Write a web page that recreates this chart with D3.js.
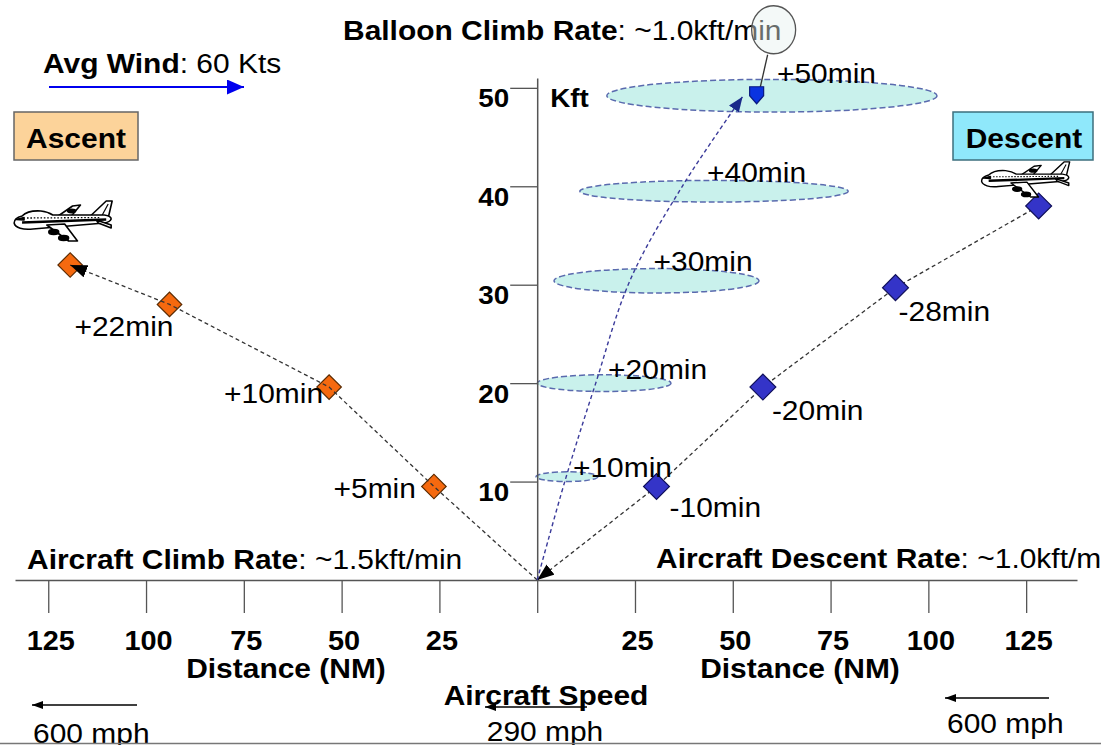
<!DOCTYPE html>
<html lang="en">
<head>
<meta charset="utf-8">
<title>Balloon launch - aircraft profile</title>
<script src="https://cdn.jsdelivr.net/npm/d3@7"></script>
<style>
  body {margin: 0; background: white;}
  svg text {font-family: "Liberation Sans", Arial, sans-serif; fill: black;}
  .trace {fill: none; stroke: #333; stroke-width: 1.3; stroke-dasharray: 4 3;}
  .traceBallon {fill: none; stroke: #3a3a9a; stroke-width: 1.4; stroke-dasharray: 4 3;}
  .derive {fill: #c9f1ec; stroke: #5a6aae; stroke-width: 1.5; stroke-dasharray: 6 3;}
  .avion path, .avion ellipse {fill: white; stroke: black; stroke-width: 1.6; stroke-linejoin: round;}
  .avion .noir {fill: black;}
</style>
</head>
<body>
<svg width="1101" height="745"></svg>
<script>
// ---- data ----
var distTicks = [-125, -100, -75, -50, -25, 0, 25, 50, 75, 100, 125];   // NM (left = ascent side)
var altTicks = [10, 20, 30, 40, 50];                                    // kft

var ascentDist = [0, 26.4, 53.2, 94.0, 119.4];     // NM, towards the left
var ascentAlt = [0, 9.5, 19.6, 28.0, 32.0];
var ascentLabels = ["", "+5min", "+10min", "+22min", ""];

var descentDist = [128.2, 91.6, 57.7, 30.5, 0];    // NM, towards the right
var descentAlt = [38.0, 29.7, 19.6, 9.5, 0];
var descentLabels = ["", "-28min", "-20min", "-10min", ""];

var balloonDist = [0, 7.2, 14.8, 23.8, 37.1, 52.5];
var balloonAlt = [0, 10.2, 19.8, 30.5, 40.0, 49.1];

var driftAlt = [10.5, 20.0, 30.4, 39.5, 49.2];
var driftCenter = [7.6, 17.1, 30.5, 45.2, 60.0];
var driftHalfWidth = [7.9, 17.1, 26.2, 34.3, 42.2];
var driftHalfHeight = [0.49, 0.85, 1.24, 1.1, 1.66];
var driftLabels = ["+10min", "+20min", "+30min", "+40min", "+50min"];

var balloonPos = [56.1, 49.3];

// ---- drawing ----
var svg = d3.select("svg");
var defs = svg.append("defs");

var x = d3.scaleLinear().domain([-133.5, 138]).range([15, 1077]);
var y = d3.scaleLinear().domain([0, 51]).range([580, 78]);

var ETIRE = 1.07;   // the slide is slightly stretched horizontally
var TAILLE = 28;

function texte(parent, px, py, morceaux, anchor, size) {
  var t = parent.append("text")
    .attr("transform", "translate(" + px + "," + py + ") scale(" + ETIRE + ",1)")
    .attr("text-anchor", anchor || "start")
    .style("font-size", (size || TAILLE) + "px");
  morceaux.forEach(function (m) {
    t.append("tspan").text(m[0]).style("font-weight", m[1] ? "bold" : "normal");
  });
  return t;
}

function fleche(id, couleur, w, h) {
  defs.append("marker")
    .attr("id", id)
    .attr("viewBox", "0 0 10 10")
    .attr("preserveAspectRatio", "none")
    .attr("refX", 10).attr("refY", 5)
    .attr("markerUnits", "userSpaceOnUse")
    .attr("markerWidth", w).attr("markerHeight", h)
    .attr("orient", "auto")
    .append("path")
      .attr("d", "M0,0L10,5L0,10Z")
      .attr("fill", couleur);
}
fleche("flecheNoire", "black", 17, 13);
fleche("flecheBallon", "#1a2a8a", 15, 12);
fleche("flecheVent", "#0000ee", 17, 15);
fleche("flechePetite", "black", 11, 8);

// drift ellipses
svg.selectAll("ellipse.derive")
  .data(driftAlt)
  .enter()
  .append("ellipse")
    .classed("derive", true)
    .attr("cx", function (d, i) { return x(driftCenter[i]); })
    .attr("cy", function (d) { return y(d); })
    .attr("rx", function (d, i) { return x(driftHalfWidth[i]) - x(0); })
    .attr("ry", function (d, i) { return y(0) - y(driftHalfHeight[i]); });

// axes
var axeX = d3.axisBottom(x)
  .tickValues(distTicks)
  .tickSize(33)
  .tickSizeOuter(0)
  .tickFormat(function (d) { return d === 0 ? "" : Math.abs(d); });

var gX = svg.append("g")
  .attr("transform", "translate(0," + y(0) + ")")
  .attr("color", "#555")
  .call(axeX);
gX.select(".domain").attr("stroke-width", 1.5);
gX.selectAll(".tick line").attr("stroke-width", 1.3);
gX.selectAll(".tick text")
  .attr("y", 0).attr("dy", 0)
  .attr("transform", "translate(2,70) scale(" + ETIRE + ",1)")
  .style("font-size", "27px")
  .style("font-weight", "bold")
  .attr("fill", "black");

var axeY = d3.axisLeft(y)
  .tickValues(altTicks)
  .tickSize(27)
  .tickSizeOuter(0);

var gY = svg.append("g")
  .attr("transform", "translate(" + x(0) + ",0)")
  .attr("color", "#555")
  .call(axeY);
gY.select(".domain").attr("stroke-width", 1.5);
gY.selectAll(".tick line").attr("stroke-width", 1.3);
gY.selectAll(".tick text")
  .attr("x", 0).attr("dy", 0)
  .attr("transform", "translate(-28,19) scale(" + ETIRE + ",1)")
  .style("font-size", "26px")
  .style("font-weight", "bold")
  .attr("fill", "black");

texte(svg, x(0) + 13, y(50) + 19, [["Kft", true]], "start", 26);

// ascent
var ligneAscent = d3.line()
  .x(function (d, i) { return x(-ascentDist[i]); })
  .y(function (d, i) { return y(ascentAlt[i]); });

svg.selectAll("path.diamantA")
  .data(ascentDist)
  .enter()
  .append("path")
    .attr("d", d3.symbol().type(d3.symbolSquare).size(300))
    .attr("transform", function (d, i) {
      return "translate(" + x(-d) + "," + y(ascentAlt[i]) + ") rotate(45)";
    })
    .attr("fill", function (d, i) { return i === 0 ? "none" : "#f5690f"; })
    .attr("stroke", function (d, i) { return i === 0 ? "none" : "#5a2a00"; })
    .attr("stroke-width", 1.2);

svg.append("path")
  .datum(ascentDist)
  .classed("trace", true)
  .attr("d", ligneAscent)
  .attr("marker-end", "url(#flecheNoire)");

var decalAscent = [[0, 0], [-18, 12], [-6, 16], [4, 32], [0, 0]];
ascentLabels.forEach(function (l, i) {
  if (!l) return;
  texte(svg, x(-ascentDist[i]) + decalAscent[i][0], y(ascentAlt[i]) + decalAscent[i][1], [[l, false]], "end");
});

// descent
var ligneDescent = d3.line()
  .x(function (d, i) { return x(descentDist[i]); })
  .y(function (d, i) { return y(descentAlt[i]); });

svg.append("path")
  .datum(descentDist)
  .classed("trace", true)
  .attr("d", ligneDescent)
  .attr("marker-end", "url(#flecheNoire)");

svg.selectAll("path.diamantD")
  .data(descentDist.slice(0, 4))
  .enter()
  .append("path")
    .attr("d", d3.symbol().type(d3.symbolSquare).size(335))
    .attr("transform", function (d, i) {
      return "translate(" + x(d) + "," + y(descentAlt[i]) + ") rotate(45)";
    })
    .attr("fill", "#3434c8")
    .attr("stroke", "#10105a")
    .attr("stroke-width", 1.2);

var decalDescent = [[0, 0], [3, 33], [9, 33], [13, 31], [0, 0]];
descentLabels.forEach(function (l, i) {
  if (!l) return;
  texte(svg, x(descentDist[i]) + decalDescent[i][0], y(descentAlt[i]) + decalDescent[i][1], [[l, false]], "start");
});

// balloon
var ligneBallon = d3.line()
  .x(function (d, i) { return x(balloonDist[i]); })
  .y(function (d, i) { return y(balloonAlt[i]); })
  .curve(d3.curveCatmullRom.alpha(0.5));

svg.append("path")
  .datum(balloonDist)
  .classed("traceBallon", true)
  .attr("d", ligneBallon)
  .attr("marker-end", "url(#flecheBallon)");

var decalDerive = [[6, 0], [4, -4], [-3, -10], [-7, -9], [5, -13]];
driftLabels.forEach(function (l, i) {
  texte(svg, x(driftCenter[i]) + decalDerive[i][0], y(driftAlt[i]) + decalDerive[i][1], [[l, false]], "start");
});

// title, partly under the balloon envelope
texte(svg, 343, 40, [["Balloon Climb Rate", true], [": ~1.0kft/min", false]]);

var bx = x(balloonPos[0]), by = y(balloonPos[1]);
svg.append("line")
  .attr("x1", bx + 3.5).attr("y1", by - 7)
  .attr("x2", bx + 11).attr("y2", by - 40)
  .attr("stroke", "#333").attr("stroke-width", 1.3);
svg.append("ellipse")
  .attr("cx", bx + 17).attr("cy", by - 65)
  .attr("rx", 22).attr("ry", 24)
  .attr("fill", "#e6f2f0").attr("fill-opacity", 0.45)
  .attr("stroke", "#555").attr("stroke-width", 1.3);
svg.append("path")
  .attr("d", "M-7,-8 L7,-8 L7,1 L0,9 L-7,1 Z")
  .attr("transform", "translate(" + bx + "," + by + ")")
  .attr("fill", "#0a33e0").attr("stroke", "#0a1a80").attr("stroke-width", 1.2);

// planes
function avion(px, py, sx, sy) {
  var g = svg.append("g")
    .classed("avion", true)
    .attr("transform", "translate(" + px + "," + py + ") scale(" + sx + "," + sy + ")");
  g.append("path").attr("d", "M44,17 L60,6 L68,5 L58,17 Z");
  g.append("ellipse").classed("noir", true).attr("cx", 59).attr("cy", 11).attr("rx", 4).attr("ry", 1.6);
  g.append("path").attr("d", "M78,16 L94,1 L100,1 L96,18 Z");
  g.append("path").attr("d", "M96,4 L90,15").style("stroke-width", 1.2);
  g.append("path").attr("d", "M1,23 C1,19 5,17 9,16 C13,12 20,10.5 28,11 C33,11.5 37,13 40,15 L92,15 Q99,16 99,19 Q98,22 92,23 L20,29 C10,30 2,28 1,23 Z");
  g.append("path").attr("d", "M9,22.5 L94,19.5").style("stroke-width", 2.6);
  g.append("path").attr("d", "M14,18 L88,17.5").style("stroke-width", 1.3).style("stroke-dasharray", "1.6 1.8");
  g.append("path").classed("noir", true).attr("d", "M3,19.5 L11,17.5 L11,20 Z");
  g.append("path").attr("d", "M84,20 L99,25 L99,28 L86,23 Z");
  g.append("path").attr("d", "M34,25 L56,41 L65,41 L52,24 Z");
  g.append("ellipse").classed("noir", true).attr("cx", 41).attr("cy", 32).attr("rx", 5).attr("ry", 2.4);
  g.append("ellipse").classed("noir", true).attr("cx", 51).attr("cy", 38).attr("rx", 5).attr("ry", 2.4);
}
avion(x(-ascentDist[4]) - 57, y(ascentAlt[4]) - 65, 0.99, 1.0);
avion(x(descentDist[0]) - 58, y(descentAlt[0]) - 45, 0.89, 0.88);

// annotation boxes
svg.append("rect").attr("x", 14).attr("y", 112).attr("width", 124).attr("height", 48)
  .attr("fill", "#fcd39a").attr("stroke", "#666").attr("stroke-width", 1.5);
texte(svg, 76, 148, [["Ascent", true]], "middle");

svg.append("rect").attr("x", 953).attr("y", 112).attr("width", 140).attr("height", 48)
  .attr("fill", "#8fe8fb").attr("stroke", "#3d6f7d").attr("stroke-width", 1.5);
texte(svg, 1024, 148, [["Descent", true]], "middle");

// notes
texte(svg, 43, 73, [["Avg Wind", true], [": 60 Kts", false]]);
svg.append("line").attr("x1", 49).attr("y1", 87).attr("x2", 244).attr("y2", 87)
  .attr("stroke", "#0000ee").attr("stroke-width", 2.2).attr("marker-end", "url(#flecheVent)");

texte(svg, 27, 569, [["Aircraft Climb Rate", true], [": ~1.5kft/min", false]]);
texte(svg, 656, 568, [["Aircraft Descent Rate", true], [": ~1.0kft/min", false]]);

texte(svg, 286, 678, [["Distance (NM)", true]], "middle");
texte(svg, 800, 678, [["Distance (NM)", true]], "middle");

texte(svg, 546, 705, [["Aircraft Speed", true]], "middle");
svg.append("line").attr("x1", 587).attr("y1", 707).attr("x2", 485).attr("y2", 707)
  .attr("stroke", "black").attr("stroke-width", 1.4).attr("marker-end", "url(#flechePetite)");
texte(svg, 545, 741, [["290 mph", false]], "middle");

svg.append("line").attr("x1", 137).attr("y1", 705).attr("x2", 32).attr("y2", 705)
  .attr("stroke", "black").attr("stroke-width", 1.4).attr("marker-end", "url(#flechePetite)");
texte(svg, 33, 743, [["600 mph", false]]);

svg.append("line").attr("x1", 1049).attr("y1", 698).attr("x2", 945).attr("y2", 698)
  .attr("stroke", "black").attr("stroke-width", 1.4).attr("marker-end", "url(#flechePetite)");
texte(svg, 947, 733, [["600 mph", false]]);

svg.append("line").attr("x1", 0).attr("y1", 743.5).attr("x2", 1101).attr("y2", 743.5)
  .attr("stroke", "#777").attr("stroke-width", 1.5);
</script>
</body>
</html>
